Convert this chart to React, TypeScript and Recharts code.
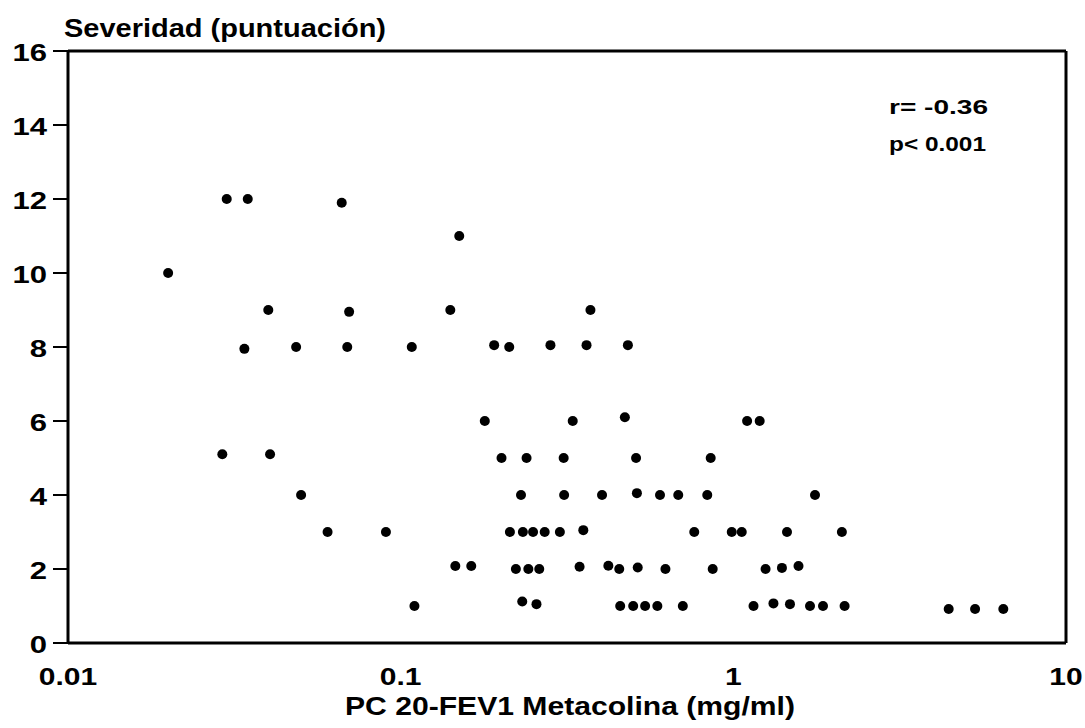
import React from 'react';
import {
  ScatterChart,
  Scatter,
  XAxis,
  YAxis,
  ReferenceLine
} from 'recharts';

// PC20-FEV1 metacolina (mg/ml)
const pc20 = [
  0.020, 0.030, 0.0347, 0.0665, 0.150,
  0.040, 0.070, 0.141, 0.372,
  0.0339, 0.0485, 0.0691, 0.108, 0.191, 0.212, 0.282, 0.362, 0.482,
  0.179, 0.329, 0.472, 1.10, 1.20,
  0.0291, 0.0405, 0.201, 0.239, 0.309, 0.510, 0.855,
  0.0502, 0.230, 0.310, 0.403, 0.513, 0.602, 0.683, 0.835, 1.76,
  0.0603, 0.0903, 0.213, 0.233, 0.250, 0.271, 0.301, 0.354, 0.763, 0.989, 1.06, 1.45, 2.12,
  0.146, 0.163, 0.222, 0.242, 0.261, 0.345, 0.421, 0.454, 0.516, 0.625, 0.867, 1.25, 1.40, 1.57,
  0.110, 0.232, 0.256, 0.457, 0.500, 0.543, 0.591, 0.705, 1.15, 1.32, 1.48, 1.70, 1.86, 2.16,
  4.44, 5.33, 6.48
];

// severidad (puntuación)
const severity = [
  10, 12, 12, 11.9, 11,
  9, 8.95, 9, 9,
  7.95, 8, 8, 8, 8.05, 8, 8.05, 8.05, 8.05,
  6, 6, 6.1, 6, 6,
  5.1, 5.1, 5, 5, 5, 5, 5,
  4, 4, 4, 4, 4.05, 4, 4, 4, 4,
  3, 3, 3, 3, 3, 3, 3, 3.05, 3, 3, 3, 3, 3,
  2.08, 2.08, 2, 2, 2, 2.06, 2.09, 2, 2.04, 2, 2, 2, 2.03, 2.08,
  1, 1.12, 1.05, 1, 1, 1, 1, 1, 1, 1.07, 1.05, 1, 1, 1,
  0.92, 0.92, 0.92
];

const xTicks = [0.01, 0.1, 1, 10];
const xTickLabels = ['0.01', '0.1', '1', '10'];
const yTicks = [0, 2, 4, 6, 8, 10, 12, 14, 16];

const points = pc20.map((x, i) => ({ x, y: severity[i] }));

const font = '"Liberation Sans", Arial, Helvetica, sans-serif';

const YTick = (props: any) => {
  const { x, y, payload } = props;
  return (
    <g transform={`translate(${x - 4},${y + 10}) scale(1.35,1)`}>
      <text x={0} y={0} textAnchor="end" fontFamily={font} fontWeight="bold" fontSize={23} fill="#000">
        {payload.value}
      </text>
    </g>
  );
};

const XTick = (props: any) => {
  const { x, y, payload } = props;
  const idx = xTicks.indexOf(payload.value);
  return (
    <g transform={`translate(${x},${y + 42}) scale(1.25,1)`}>
      <text x={0} y={0} textAnchor="middle" fontFamily={font} fontWeight="bold" fontSize={24} fill="#000">
        {idx >= 0 ? xTickLabels[idx] : payload.value}
      </text>
    </g>
  );
};

const Dot = (props: any) => {
  const { cx, cy } = props;
  if (cx == null || cy == null) return null;
  return <circle cx={cx} cy={cy} r={5} fill="#000" />;
};

export default function App() {
  return (
    <div style={{ position: 'absolute', left: 0, top: 0, width: 1085, height: 728, background: '#fff' }}>
      <ScatterChart
        width={1085}
        height={728}
        margin={{ top: 51, right: 19, bottom: 0, left: 0 }}
      >
        <XAxis
          type="number"
          dataKey="x"
          scale="log"
          domain={[0.01, 10]}
          ticks={xTicks}
          allowDataOverflow
          height={85}
          tickLine={false}
          tickSize={0}
          tickMargin={0}
          axisLine={{ stroke: '#000', strokeWidth: 3 }}
          tick={<XTick />}
        />
        <YAxis
          type="number"
          dataKey="y"
          domain={[0, 16]}
          ticks={yTicks}
          width={68}
          tickSize={15}
          tickMargin={2}
          tickLine={{ stroke: '#000', strokeWidth: 2 }}
          axisLine={{ stroke: '#000', strokeWidth: 3 }}
          tick={<YTick />}
        />
        <ReferenceLine y={16} stroke="#000" strokeWidth={3} />
        <ReferenceLine x={10} stroke="#000" strokeWidth={3} />
        <Scatter data={points} shape={<Dot />} isAnimationActive={false} />
      </ScatterChart>
      <svg
        width={1085}
        height={728}
        style={{ position: 'absolute', left: 0, top: 0, pointerEvents: 'none' }}
      >
        <g fontFamily={font} fontWeight="bold" fill="#000">
          <text x={64} y={37} fontSize={25} textLength={322} lengthAdjust="spacingAndGlyphs">
            Severidad (puntuación)
          </text>
          <text x={345} y={715} fontSize={26} textLength={450} lengthAdjust="spacingAndGlyphs">
            PC 20-FEV1 Metacolina (mg/ml)
          </text>
          <text x={889} y={114} fontSize={21} textLength={99} lengthAdjust="spacingAndGlyphs">
            r= -0.36
          </text>
          <text x={889} y={151} fontSize={21} textLength={97} lengthAdjust="spacingAndGlyphs">
            p&lt; 0.001
          </text>
        </g>
      </svg>
    </div>
  );
}
